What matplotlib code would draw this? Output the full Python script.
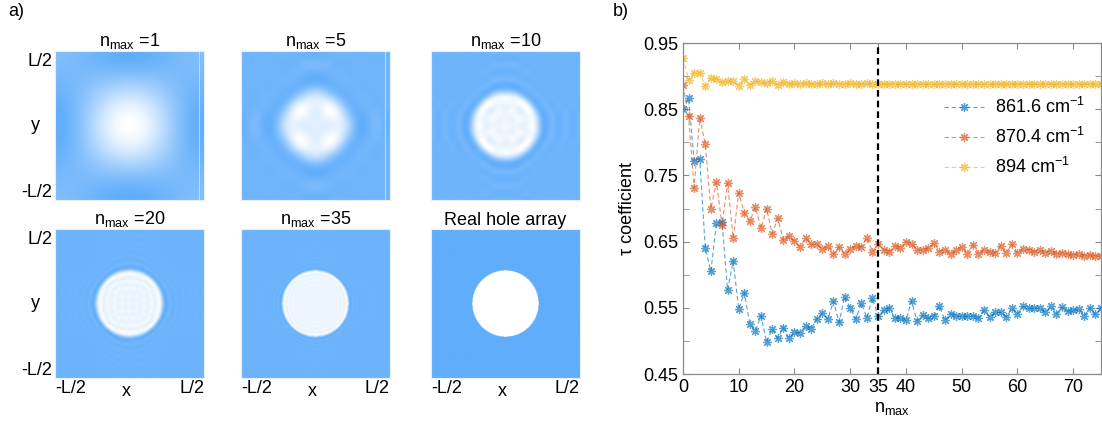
import numpy as np
import matplotlib
matplotlib.use("Agg")
import matplotlib.pyplot as plt
from matplotlib.colors import LinearSegmentedColormap

plt.rcParams['font.family'] = ['Liberation Sans', 'DejaVu Sans']
plt.rcParams['mathtext.fontset'] = 'custom'
plt.rcParams['mathtext.rm'] = 'Liberation Sans'
plt.rcParams['mathtext.it'] = 'Liberation Sans:italic'

# truncation orders shown in panel a) and hole radius (in units of L)
nmax_list = [1, 5, 10, 20, 35]
hole_radius = 0.222

# tau coefficient vs n_max for three frequencies
n_values = list(range(0, 76))
tau_861 = [0.850, 0.867, 0.772, 0.775, 0.640, 0.605, 0.678, 0.680, 0.577, 0.621,
           0.548, 0.573, 0.525, 0.515, 0.538, 0.498, 0.518, 0.504, 0.520, 0.504,
           0.513, 0.512, 0.523, 0.518, 0.533, 0.542, 0.533, 0.560, 0.528, 0.567,
           0.550, 0.533, 0.557, 0.535, 0.565, 0.537, 0.546, 0.550, 0.535, 0.535,
           0.531, 0.560, 0.530, 0.539, 0.534, 0.537, 0.553, 0.531, 0.541, 0.537,
           0.538, 0.537, 0.538, 0.534, 0.546, 0.536, 0.544, 0.543, 0.536, 0.549,
           0.541, 0.552, 0.549, 0.549, 0.550, 0.543, 0.552, 0.541, 0.551, 0.545,
           0.546, 0.548, 0.538, 0.550, 0.540, 0.549]
tau_870 = [0.886, 0.839, 0.731, 0.837, 0.797, 0.700, 0.740, 0.675, 0.738, 0.655,
           0.724, 0.693, 0.681, 0.702, 0.670, 0.700, 0.662, 0.685, 0.652, 0.658,
           0.651, 0.642, 0.655, 0.646, 0.646, 0.639, 0.643, 0.631, 0.642, 0.631,
           0.639, 0.643, 0.642, 0.656, 0.635, 0.646, 0.638, 0.635, 0.643, 0.641,
           0.650, 0.646, 0.638, 0.637, 0.640, 0.648, 0.635, 0.638, 0.632, 0.637,
           0.642, 0.632, 0.645, 0.632, 0.638, 0.634, 0.633, 0.644, 0.633, 0.646,
           0.633, 0.639, 0.638, 0.634, 0.637, 0.633, 0.636, 0.632, 0.633, 0.631,
           0.630, 0.632, 0.629, 0.630, 0.628, 0.629]
tau_894 = [0.928, 0.894, 0.905, 0.905, 0.885, 0.897, 0.896, 0.891, 0.893, 0.892,
           0.885, 0.896, 0.887, 0.892, 0.891, 0.889, 0.892, 0.887, 0.891, 0.888,
           0.889, 0.888, 0.889, 0.888, 0.888, 0.889, 0.888, 0.889, 0.888, 0.888,
           0.889, 0.888, 0.888, 0.889, 0.888, 0.888, 0.888, 0.888, 0.888, 0.888,
           0.888, 0.888, 0.888, 0.888, 0.888, 0.888, 0.888, 0.888, 0.888, 0.888,
           0.888, 0.888, 0.888, 0.888, 0.888, 0.888, 0.888, 0.888, 0.888, 0.888,
           0.888, 0.888, 0.888, 0.888, 0.888, 0.888, 0.888, 0.888, 0.888, 0.888,
           0.888, 0.888, 0.888, 0.888, 0.888, 0.888]
series_labels = ['861.6 cm$^{-1}$', '870.4 cm$^{-1}$', '894 cm$^{-1}$']
series_colors = ['#0072BD', '#D95319', '#EDB120']
n_cut = 35

W, H = 1102, 425
fig = plt.figure(figsize=(W / 100, H / 100), dpi=100)

cmap = LinearSegmentedColormap.from_list('holes', ['#60adfb', '#ffffff'])

# unit cell with a circular hole, and its truncated Fourier reconstructions
N = 300
g = (np.arange(N) + 0.5) / N - 0.5
X, Y = np.meshgrid(g, g)
hole = (X ** 2 + Y ** 2 <= hole_radius ** 2).astype(float)
F = np.fft.fft2(hole)
k = np.fft.fftfreq(N, 1.0 / N)
KX, KY = np.meshgrid(k, k)

def truncated(nmax):
    mask = (np.abs(KX) <= nmax) & (np.abs(KY) <= nmax)
    return np.real(np.fft.ifft2(F * mask))

images = [truncated(n) for n in nmax_list] + [hole]
titles = ['n$_{\\mathrm{max}}$ =%d' % n for n in nmax_list] + ['Real hole array']

col_x = [55, 241, 431]
row_y = [51, 229]
size = 149
fs = 13

for i, (img, title) in enumerate(zip(images, titles)):
    r, c = divmod(i, 3)
    x0, y0 = col_x[c], row_y[r]
    ax = fig.add_axes([x0 / W, 1 - (y0 + size) / H, size / W, size / H])
    ax.imshow(img, cmap=cmap, extent=[-0.5, 0.5, -0.5, 0.5], origin='lower',
              interpolation='bilinear', aspect='auto')
    for s in ax.spines.values():
        s.set_color('#e6f0fb')
        s.set_linewidth(0.8)
    ax.set_xticks([])
    ax.set_yticks([])
    ax.set_title(title, fontsize=fs, pad=2)
    if r == 0 and c < 2:
        ax.axvline(0.465, color='white', lw=0.8, alpha=0.5)
    if c == 0:
        ax.text(-0.02, 0.93, 'L/2', transform=ax.transAxes, ha='right', va='center', fontsize=fs)
        ax.text(-0.1, 0.5, 'y', transform=ax.transAxes, ha='right', va='center', fontsize=fs)
        ax.text(-0.02, 0.05, '-L/2', transform=ax.transAxes, ha='right', va='center', fontsize=fs)
    if r == 1:
        ax.text(0.0, -0.07, '-L/2', transform=ax.transAxes, ha='left', va='center', fontsize=fs)
        ax.text(0.48, -0.09, 'x', transform=ax.transAxes, ha='center', va='center', fontsize=fs)
        ax.text(1.0, -0.07, 'L/2', transform=ax.transAxes, ha='right', va='center', fontsize=fs)

fig.text(8 / W, 1 - 12 / H, 'a)', fontsize=fs, va='center')
fig.text(613 / W, 1 - 12 / H, 'b)', fontsize=fs, va='center')

# panel b)
ax = fig.add_axes([683 / W, 1 - 374 / H, 418 / W, 331 / H])
for y, lab, col in zip([tau_861, tau_870, tau_894], series_labels, series_colors):
    ax.plot(n_values, y, linestyle='--', dashes=(4, 2.5), lw=0.8, color=col, alpha=0.65,
            marker=(8, 2, 0), markersize=6.5, markeredgewidth=0.9, label=lab)
ax.axvline(n_cut, color='black', lw=1.6, linestyle='--', dashes=(3, 1.8))

ax.set_xlim(0, 75)
ax.set_ylim(0.45, 0.95)
ax.set_xticks([0, 10, 20, 30, 35, 40, 50, 60, 70])
ax.set_yticks([0.45, 0.55, 0.65, 0.75, 0.85, 0.95])
ax.set_yticks(np.arange(0.5, 0.95, 0.1), minor=True)
ax.tick_params(which='both', direction='in', top=True, right=True, labelsize=fs,
               color='#8a8a8a', length=4)
for s in ax.spines.values():
    s.set_color('#8a8a8a')
    s.set_linewidth(0.9)
ax.set_xlabel('n$_{\\mathrm{max}}$', fontsize=fs, labelpad=3)
ax.set_ylabel('\u03c4 coefficient', fontsize=fs, labelpad=5)

ax.legend(loc='center right', bbox_to_anchor=(1.0, 0.716), frameon=False,
          fontsize=fs, handlelength=2.2, labelspacing=0.55, handletextpad=0.6)

fig.savefig('out.png', dpi=100)
